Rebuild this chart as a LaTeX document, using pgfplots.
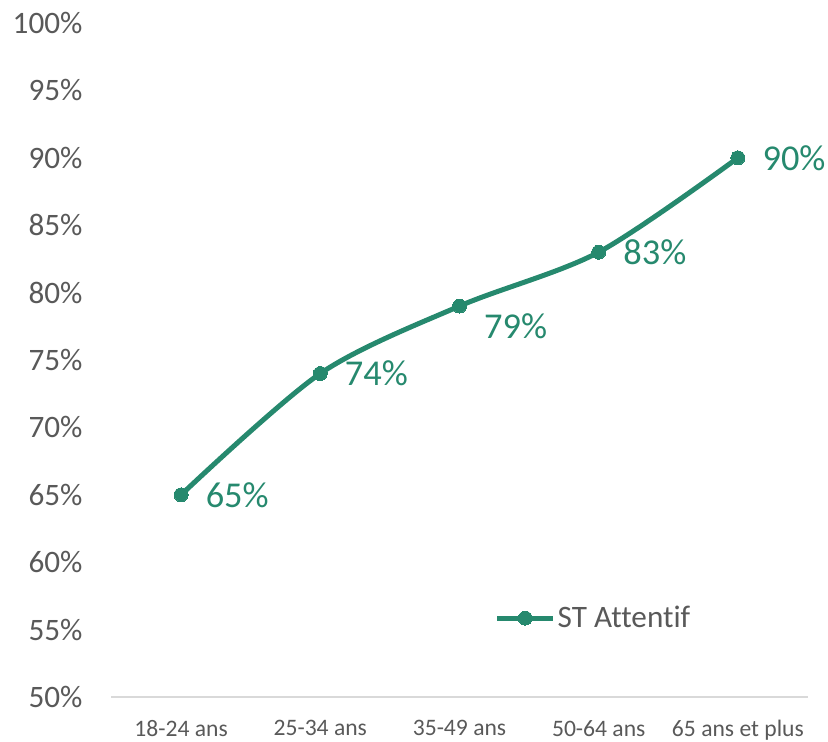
\documentclass[border=0pt]{standalone}
\usepackage{fontspec}
\setmainfont{Carlito}[Ligatures=NoCommon]
\usepackage{pgfplots}
\pgfplotsset{compat=1.18}
\definecolor{stgreen}{RGB}{38,137,110}
\definecolor{txtgray}{RGB}{89,89,89}
\definecolor{axgray}{RGB}{217,217,217}
\begin{document}
\begin{tikzpicture}
\begin{axis}[
    at={(55.75pt,22pt)}, anchor=south west,
    scale only axis,
    width=348pt, height=337pt,
    xmin=-0.5, xmax=4.5,
    ymin=50, ymax=100,
    ytick={50,55,...,100},
    yticklabel={\pgfmathprintnumber{\tick}\%},
    xtick={0,1,2,3,4},
    xticklabels={18-24 ans, 25-34 ans, 35-49 ans, 50-64 ans, 65 ans et plus},
    /pgf/number format/assume math mode=true,
    axis x line=bottom, axis y line=left,
    x axis line style={axgray, line width=1pt, -},
    y axis line style={draw=none},
    major tick length=0pt,
    tick style={draw=none},
    yticklabel style={font=\fontsize{15.6}{18}\selectfont, text=txtgray, xshift=-11pt},
    xticklabel style={font=\fontsize{11.8}{14}\selectfont, text=txtgray,
        inner sep=0pt, yshift=-11.5pt},
    legend style={at={(rel axis cs:0.55,0.117)}, anchor=west, draw=none, fill=none,
        font=\fontsize{15.6}{18}\selectfont, text=txtgray, inner sep=0pt,
        nodes={inner sep=1pt}},
    legend image code/.code={\draw[#1, mark repeat=2, mark phase=2] plot coordinates {(0pt,0pt) (14pt,0pt) (28pt,0pt)};},
    clip=false,
]
\addplot[stgreen, line width=2.5pt, smooth, mark=*, mark size=3.5pt,
    mark options={fill=stgreen, draw=stgreen, line width=0pt},
    nodes near coords={\pgfmathprintnumber{\pgfplotspointmeta}\%},
    point meta=explicit,
    coordinate style/.condition={x==2}{yshift=-10pt},
    every node near coord/.append style={anchor=west, xshift=9pt, text=stgreen,
        font=\fontsize{18.2}{21}\selectfont, /pgf/number format/assume math mode=true}]
    coordinates {(0,65)[65] (1,74)[74] (2,79)[79] (3,83)[83] (4,90)[90]};
\addlegendentry{ST Attentif}
\end{axis}
\pgfresetboundingbox
\useasboundingbox (0,0) rectangle (414pt,370.5pt);
\end{tikzpicture}
\end{document}
